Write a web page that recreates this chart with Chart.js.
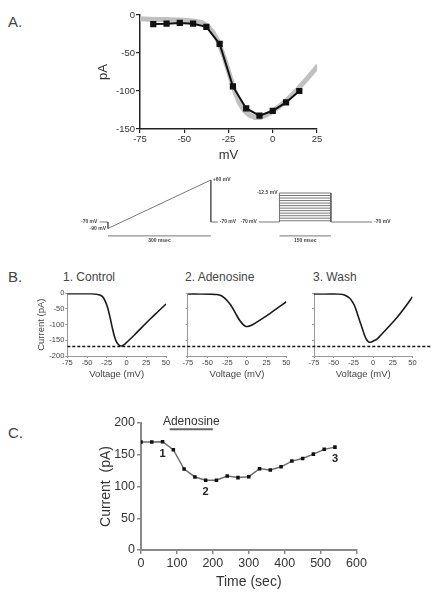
<!DOCTYPE html>
<html>
<head>
<meta charset="utf-8">
<script src="https://cdn.jsdelivr.net/npm/chart.js@4.4.0/dist/chart.umd.min.js"></script>
<style>
  body { margin: 0; background: #fff; width: 436px; height: 599px; position: relative; overflow: hidden;
         font-family: Arial, "Liberation Sans", sans-serif; color: #444; }
  canvas { position: absolute; left: 0; }
  .lbl { position: absolute; white-space: nowrap; }
</style>
</head>
<body>
<div class="lbl" style="left:8px;top:13px;font-size:15px">A.</div>
<div class="lbl" style="left:8px;top:268px;font-size:15px">B.</div>
<div class="lbl" style="left:8px;top:424px;font-size:15px">C.</div>
<div class="lbl" style="left:63px;top:270px;font-size:12px">1. Control</div>
<div class="lbl" style="left:185px;top:270px;font-size:12px">2. Adenosine</div>
<div class="lbl" style="left:313px;top:270px;font-size:12px">3. Wash</div>

<canvas id="chartA" width="436" height="170" style="top:0"></canvas>
<canvas id="chartProto" width="436" height="80" style="top:170px"></canvas>
<canvas id="chartB1" width="436" height="105" style="top:280px"></canvas>
<canvas id="chartB2" width="436" height="105" style="top:280px"></canvas>
<canvas id="chartB3" width="436" height="105" style="top:280px"></canvas>
<canvas id="chartBref" width="436" height="105" style="top:280px"></canvas>
<canvas id="chartC" width="436" height="199" style="top:400px"></canvas>

<script>
// A: step I-V (squares) and ramp I-V (gray trace)
const stepMV = [-67.5, -60, -52.5, -45, -37.5, -30, -22.5, -15, -7.5, 0, 7.5, 15];
const stepPA = [-12, -11.5, -10.5, -11.5, -15.5, -38, -94, -123, -132.5, -126, -115, -100];
const rampMV = [-75, -70, -65, -60, -55, -50, -45, -40, -37, -34, -31, -28, -25, -22, -19, -16, -13, -10, -7, -4, -1, 2, 5, 8, 11, 14, 17, 20, 23, 25];
const rampPA = [-5, -5.5, -6, -6, -6.5, -7, -8, -10, -14, -22, -34, -52, -74, -97, -115, -126, -132, -135, -135, -132, -128, -123, -118, -112, -105, -98, -90, -82, -74, -68];

// voltage protocols (ms, mV)
const rampProtoT = [-25, 0, 0, 300, 300, 320];
const rampProtoV = [-70, -70, -90, 60, -70, -70];
const stepProtoT = [440, 500, 500, 650, 650, 770];
const stepProtoV = [-70, -70, -12.5, -12.5, -70, -70];
const stepLevels = [-17.5, -22.5, -27.5, -32.5, -37.5, -42.5, -47.5, -52.5, -57.5, -62.5, -67.5];
const rampBar = [0, 300];
const stepBar = [500, 650];
const barLevel = -113;

// B: ramp currents
const ctlMV = [-75, -60, -45, -38, -33, -30, -27, -24, -21, -18, -15, -12, -9, -6, -3, 0, 10, 20, 30, 40, 50];
const ctlPA = [-1, -1, -1.5, -3, -6, -12, -25, -45, -75, -110, -140, -158, -166, -168, -164, -157, -133, -107, -82, -58, -34];
const adoMV = [-75, -60, -45, -38, -33, -29, -25, -21, -17, -13, -9, -5, -2, 1, 5, 10, 20, 30, 40, 50];
const adoPA = [-2, -2, -2.5, -4, -7, -14, -24, -36, -52, -70, -87, -99, -105, -106, -103, -96, -80, -63, -45, -27];
const washMV = [-75, -60, -45, -40, -35, -30, -26, -23, -20, -17, -14, -11, -8, -5, -2, 2, 5, 10, 20, 30, 40, 50];
const washPA = [-2, -2, -2, -3, -7, -15, -28, -43, -65, -88, -110, -133, -149, -156, -155, -150, -146, -133, -106, -78, -46, -11];
const refLevel = -170;

// C: time course
const timeSec = [0, 30, 60, 90, 120, 150, 180, 210, 240, 270, 300, 330, 360, 390, 420, 450, 480, 510, 540];
const currentPA = [170, 170, 170.5, 158, 127.5, 115, 110, 110, 116.5, 114, 115.5, 128, 126, 131, 140, 144, 151, 158.5, 162];
const markIdx = [2, 6, 18];
const markTxt = ['1', '2', '3'];
const drugOn = 80, drugOff = 200, drugLevel = 190;

const FONT = 'Arial, "Liberation Sans", sans-serif';
Chart.defaults.font.family = FONT;
Chart.defaults.color = '#333';
Chart.defaults.animation = false;
Chart.defaults.responsive = false;
Chart.defaults.plugins.legend.display = false;
Chart.defaults.plugins.tooltip.enabled = false;

const pts = (xs, ys) => xs.map((x, i) => ({ x: x, y: ys[i] }));
const fixW = w => s => { s.width = w; };
const fixH = h => s => { s.height = h; };

// panel A
new Chart(document.getElementById('chartA'), {
  type: 'scatter',
  data: {
    datasets: [{
      data: pts(stepMV, stepPA),
      showLine: true,
      borderColor: '#111',
      backgroundColor: '#111',
      borderWidth: 2,
      pointStyle: 'rect',
      pointRadius: 3,
    }, {
      data: pts(rampMV, rampPA),
      showLine: true,
      borderColor: '#c0c0c0',
      borderWidth: 5,
      borderCapStyle: 'round',
      pointRadius: 0,
    }]
  },
  options: {
    layout: { padding: { left: 92, right: 119, top: 15, bottom: 3 } },
    scales: {
      x: {
        min: -75, max: 25,
        afterFit: fixH(38),
        ticks: { stepSize: 25, font: { size: 9.5 }, padding: 1 },
        grid: { drawOnChartArea: false, tickLength: 4, color: '#222', lineWidth: 1.2 },
        border: { color: '#222', width: 1.5 },
        title: { display: true, text: 'mV', font: { size: 13 }, padding: { top: 0, bottom: 4 } },
      },
      y: {
        min: -150, max: 0,
        afterFit: fixW(48),
        ticks: { stepSize: 50, font: { size: 9.5 }, padding: 1 },
        grid: { drawOnChartArea: false, tickLength: 4, color: '#222', lineWidth: 1.2 },
        border: { color: '#222', width: 1.5 },
        title: { display: true, text: 'pA', font: { size: 13 } },
      },
    },
  },
});

// voltage protocols
const protoLabels = [
  { text: '-70 mV', t: -25, v: -70, ax: 'yR', side: 'left' },
  { text: '-90 mV', t: 0, v: -90, ax: 'yR', side: 'left' },
  { text: '+60 mV', t: 300, v: 60, ax: 'yR', side: 'right' },
  { text: '-70 mV', t: 320, v: -70, ax: 'yR', side: 'right' },
  { text: '-12.5 mV', t: 500, v: -12.5, ax: 'yS', side: 'left' },
  { text: '-70 mV', t: 440, v: -70, ax: 'yS', side: 'left' },
  { text: '-70 mV', t: 770, v: -70, ax: 'yS', side: 'right' },
  { text: '300 msec', t: 150, v: barLevel, ax: 'yR', side: 'below' },
  { text: '150 msec', t: 575, v: barLevel, ax: 'yR', side: 'below' },
];
const protoText = {
  id: 'protoText',
  afterDatasetsDraw(chart) {
    const ctx = chart.ctx;
    ctx.save();
    ctx.font = 'bold 5px ' + FONT;
    ctx.fillStyle = '#444';
    ctx.textBaseline = 'middle';
    protoLabels.forEach(l => {
      const px = chart.scales.x.getPixelForValue(l.t);
      const py = chart.scales[l.ax].getPixelForValue(l.v);
      if (l.side === 'left') { ctx.textAlign = 'right'; ctx.fillText(l.text, px - 2, py); }
      else if (l.side === 'right') { ctx.textAlign = 'left'; ctx.fillText(l.text, px + 2, py); }
      else { ctx.textAlign = 'center'; ctx.fillText(l.text, px, py + 5); }
    });
    ctx.restore();
  }
};
const protoLine = { showLine: true, borderColor: '#555', borderWidth: 0.8, pointRadius: 0 };
new Chart(document.getElementById('chartProto'), {
  type: 'scatter',
  data: {
    datasets: [
      { ...protoLine, yAxisID: 'yR', data: pts(rampProtoT, rampProtoV) },
      { ...protoLine, yAxisID: 'yS', data: pts(stepProtoT, stepProtoV) },
      ...stepLevels.map(lv => ({ ...protoLine, yAxisID: 'yS', data: pts([stepProtoT[2], stepProtoT[3]], [lv, lv]) })),
      { ...protoLine, yAxisID: 'yR', data: pts(rampBar, [barLevel, barLevel]) },
      { ...protoLine, yAxisID: 'yR', data: pts(stepBar, [barLevel, barLevel]) },
    ]
  },
  options: {
    layout: { padding: { left: 99.4, right: 60.5, top: 5, bottom: 10 } },
    scales: {
      x: { display: false, min: -25, max: 780 },
      yR: { display: false, min: -125.7, max: 75.5 },
      yS: { display: false, min: -105.7, max: 23.2 },
    },
  },
  plugins: [protoText],
});

// panel B
function ivChart(id, mv, pa, left, right, first) {
  const axisGray = '#9a9a9a';
  return new Chart(document.getElementById(id), {
    type: 'scatter',
    data: {
      datasets: [{
        data: pts(mv, pa),
        showLine: true,
        borderColor: '#1a1a1a',
        borderWidth: 1.6,
        pointRadius: 0,
        tension: 0.3,
      }]
    },
    options: {
      layout: { padding: { left: first ? 32 : left - 3, right: 436 - right, top: 13.3, bottom: 1 } },
      scales: {
        x: {
          min: -75, max: 50,
          afterFit: fixH(28),
          ticks: { stepSize: 25, font: { size: 7.5 }, padding: 0, color: '#444' },
          grid: { drawOnChartArea: false, tickLength: 2, color: axisGray },
          border: { color: axisGray, width: 1 },
          title: { display: true, text: 'Voltage (mV)', font: { size: 9.5 }, color: '#444', padding: { top: 0, bottom: 4 } },
        },
        y: {
          min: -200, max: 0,
          afterFit: fixW(first ? left - 32 : 3),
          ticks: { stepSize: 50, display: first, font: { size: 7.5 }, padding: 1, color: '#444' },
          grid: { drawOnChartArea: false, tickLength: 2, color: axisGray },
          border: { color: axisGray, width: 1 },
          title: { display: first, text: 'Current (pA)', font: { size: 9.5 }, color: '#444' },
        },
      },
    },
  });
}
ivChart('chartB1', ctlMV, ctlPA, 67.3, 166, true);
ivChart('chartB2', adoMV, adoPA, 187.8, 286.3, false);
ivChart('chartB3', washMV, washPA, 314, 412.5, false);

// dashed reference at the control peak
new Chart(document.getElementById('chartBref'), {
  type: 'scatter',
  data: {
    datasets: [{
      data: pts([0, 1], [refLevel, refLevel]),
      showLine: true,
      borderColor: '#111',
      borderWidth: 1.5,
      borderDash: [3, 2],
      pointRadius: 0,
    }]
  },
  options: {
    layout: { padding: { left: 67.3, right: 4, top: 13.3, bottom: 29 } },
    scales: {
      x: { display: false, min: 0, max: 1 },
      y: { display: false, min: -200, max: 0 },
    },
  },
});

// panel C
const markText = {
  id: 'markText',
  afterDatasetsDraw(chart) {
    const { ctx, scales: { x, y } } = chart;
    ctx.save();
    ctx.fillStyle = '#222';
    ctx.textAlign = 'center';
    ctx.textBaseline = 'middle';
    ctx.font = 'bold 11px ' + FONT;
    markIdx.forEach((idx, k) => {
      ctx.fillText(markTxt[k], x.getPixelForValue(timeSec[idx]), y.getPixelForValue(currentPA[idx]) + 12);
    });
    ctx.font = '12px ' + FONT;
    ctx.fillStyle = '#333';
    ctx.fillText('Adenosine', x.getPixelForValue((drugOn + drugOff) / 2), y.getPixelForValue(drugLevel) - 8);
    ctx.restore();
  }
};
new Chart(document.getElementById('chartC'), {
  type: 'scatter',
  data: {
    datasets: [{
      data: pts(timeSec, currentPA),
      showLine: true,
      borderColor: '#6e6e6e',
      backgroundColor: '#111',
      borderWidth: 1.5,
      pointStyle: 'rect',
      pointRadius: 2.5,
      pointBorderWidth: 0,
    }, {
      data: pts([drugOn, drugOff], [drugLevel, drugLevel]),
      showLine: true,
      borderColor: '#666',
      borderWidth: 2,
      pointRadius: 0,
    }]
  },
  options: {
    layout: { padding: { left: 93.6, right: 79.5, top: 23, bottom: 4.6 } },
    scales: {
      x: {
        min: 0, max: 600,
        afterFit: fixH(44.4),
        ticks: { stepSize: 100, font: { size: 12.5 }, padding: 2 },
        grid: { drawOnChartArea: false, tickLength: 4, color: '#8a8a8a', lineWidth: 1.5 },
        border: { color: '#8a8a8a', width: 2 },
        title: { display: true, text: 'Time (sec)', font: { size: 14 }, padding: { top: 0, bottom: 4 } },
      },
      y: {
        min: 0, max: 200,
        afterFit: fixW(47.4),
        ticks: { stepSize: 50, font: { size: 12.5 }, padding: 2 },
        grid: { drawOnChartArea: false, tickLength: 4, color: '#8a8a8a', lineWidth: 1.5 },
        border: { color: '#8a8a8a', width: 2 },
        title: { display: true, text: 'Current  (pA)', font: { size: 14 } },
      },
    },
  },
  plugins: [markText],
});
</script>
</body>
</html>
